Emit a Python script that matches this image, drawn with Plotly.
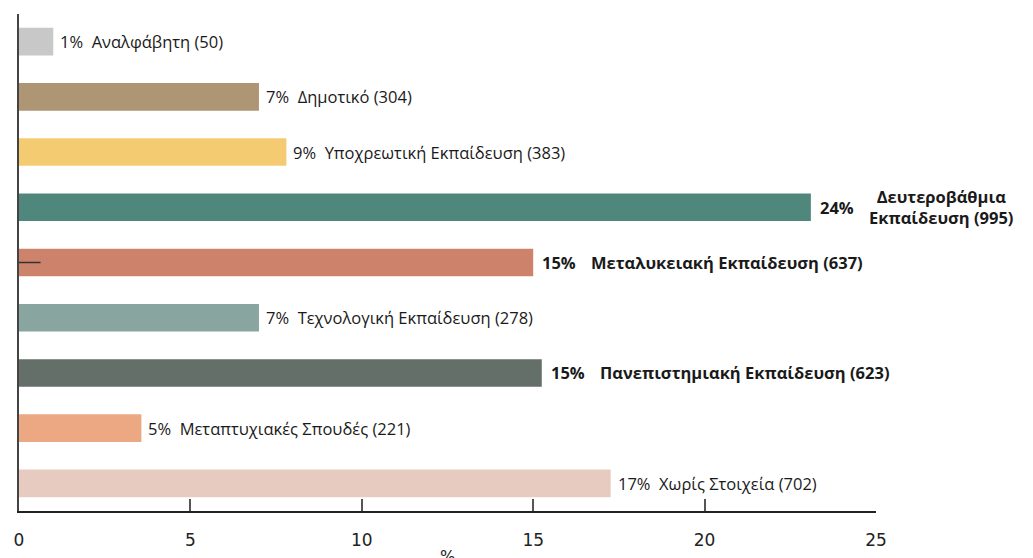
import plotly.graph_objects as go

# ---- data ----
categories = ["Αναλφάβητη", "Δημοτικό", "Υποχρεωτική Εκπαίδευση", "Δευτεροβάθμια<br>Εκπαίδευση",
              "Μεταλυκειακή Εκπαίδευση", "Τεχνολογική Εκπαίδευση", "Πανεπιστημιακή Εκπαίδευση",
              "Μεταπτυχιακές Σπουδές", "Χωρίς Στοιχεία"]
values = [1.0, 7.0, 7.8, 23.1, 15.0, 7.0, 15.25, 3.57, 17.26]
pct_labels = ["1%", "7%", "9%", "24%", "15%", "7%", "15%", "5%", "17%"]
counts = [50, 304, 383, 995, 637, 278, 623, 221, 702]
bold = [False, False, False, True, True, False, True, False, False]
colors = ["#c8c8c8", "#ae9574", "#f5cb72", "#50877c", "#cd836b",
          "#88a69f", "#646f6a", "#eca882", "#e8cbc0"]
x_ticks = [0, 5, 10, 15, 20, 25]

FONT = "Open Sans"
TXT = "#1a1a1a"
FS = 16.5

ids = list(range(len(categories)))

fig = go.Figure(go.Bar(
    y=ids, x=values, orientation="h",
    marker=dict(color=colors, line=dict(width=0)),
    width=0.5, hoverinfo="skip",
))

annotations = []
for i in ids:
    if bold[i]:
        annotations.append(dict(
            x=values[i], y=i, xref="x", yref="y", xanchor="left", yanchor="middle",
            xshift=7, showarrow=False,
            text="<b>%s</b>" % pct_labels[i],
            font=dict(family=FONT, size=FS, color=TXT)))
        annotations.append(dict(
            x=values[i], y=i, xref="x", yref="y", xanchor="left", yanchor="middle",
            xshift=56, showarrow=False, align="center",
            text="<b>%s (%d)</b>" % (categories[i], counts[i]),
            font=dict(family=FONT, size=FS, color=TXT)))
    else:
        annotations.append(dict(
            x=values[i], y=i, xref="x", yref="y", xanchor="left", yanchor="middle",
            xshift=5, showarrow=False,
            text="%s\u00a0\u00a0%s (%d)" % (pct_labels[i], categories[i], counts[i]),
            font=dict(family=FONT, size=FS, color=TXT)))

annotations.append(dict(
    x=0.5, y=-0.068, xref="paper", yref="paper", xanchor="center", yanchor="top",
    showarrow=False, text="%", font=dict(family="DejaVu Sans", size=16, color="#222")))

fig.update_layout(
    width=1025, height=550,
    margin=dict(l=7, r=157, t=6, b=47),
    paper_bgcolor="white", plot_bgcolor="white",
    showlegend=False,
    annotations=annotations,
    shapes=[dict(type="line", xref="x", yref="y", x0=0, x1=0.63, y0=4, y1=4,
                 line=dict(color="#333", width=1.5))],
    xaxis=dict(
        range=[0, 25], tickvals=x_ticks, ticktext=[str(t) for t in x_ticks],
        showgrid=False, zeroline=False,
        showline=True, linecolor="#222", linewidth=1.5,
        ticks="inside", ticklen=12, tickwidth=1.5, tickcolor="#555",
        tickfont=dict(family="DejaVu Sans", size=17, color="#222"),
        ticklabelstandoff=13,
        fixedrange=True,
    ),
    yaxis=dict(
        range=[8.5, -0.5], showticklabels=False, showgrid=False, zeroline=False,
        showline=True, linecolor="#444", linewidth=1.5, ticks="",
        fixedrange=True,
    ),
)

fig.write_html("out.html")
